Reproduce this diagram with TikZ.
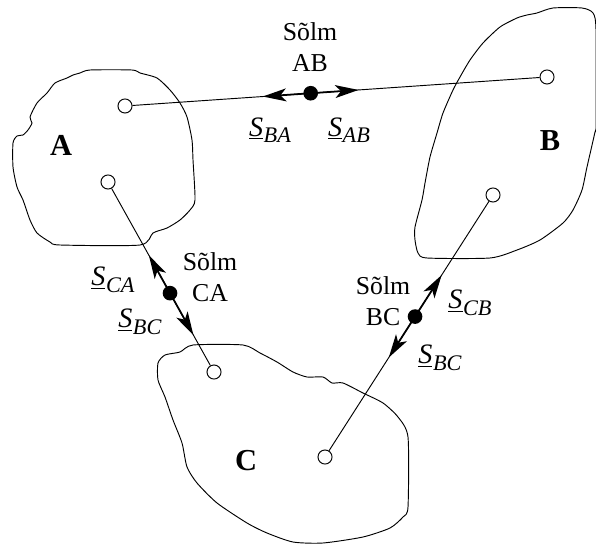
\documentclass[tikz,border=0pt]{standalone}
\usepackage{fontspec}
\setmainfont{Liberation Serif}
\usetikzlibrary{arrows.meta,calc}

\tikzset{
  port/.style={circle, draw, fill=white, inner sep=0pt, minimum size=12pt},
  hub/.style={circle, fill=black, inner sep=0pt, minimum size=12.5pt},
  force/.style={-{Stealth[length=20pt, width=11pt, inset=5pt]}, line width=1.5pt, shorten <=-1pt},
  lbl/.style={font=\fontsize{22}{27}\selectfont, align=center, inner sep=0pt},
  region/.style={font=\fontsize{26}{30}\selectfont\bfseries, inner sep=0pt}
}
\newcommand{\vecS}[1]{{\fontsize{24}{28}\selectfont\textit{\underline{S}}}\kern0.5pt\raisebox{-5.5pt}{\fontsize{19}{22}\selectfont\textit{#1}}}

\begin{document}
\begin{tikzpicture}[x=0.03cm, y=-0.03cm, line width=0.8pt]
\useasboundingbox (0,0) rectangle (596,544);

% regions
\draw plot[smooth cycle, tension=0.4] coordinates {
  (80,73) (90,70) (132,70) (140,73) (157,78) (170,90) (180,103) (187,117)
  (192,140) (193,160) (195,200) (190,210) (180,220) (167,228) (153,233)
  (140,245) (60,245) (50,242) (37,233) (30,220) (23,200) (17,187) (13,167)
  (13,143) (17,136) (23,135) (28,130) (32,123) (30,117) (37,103) (47,93)
  (55,83) (67,78) (73,75)};
\draw plot[smooth cycle, tension=0.4] coordinates {
  (537,13) (553,8) (582,8) (593,13) (596,30) (596,125) (595,132) (587,167)
  (582,190) (573,210) (563,223) (540,240) (517,250) (490,258) (427,258)
  (418,253) (415,240) (415,227) (422,200) (425,183) (430,157) (437,133)
  (443,113) (453,90) (460,77) (470,60) (483,43) (500,27) (517,18) (527,15)};
\draw plot[smooth cycle, tension=0.4] coordinates {
  (193,345) (243,345) (260,353) (277,362) (293,372) (307,377) (323,377)
  (332,383) (343,383) (363,393) (383,403) (398,417) (408,437) (408,507)
  (403,517) (390,528) (363,537) (323,543) (293,542) (267,533) (247,523)
  (217,503) (197,483) (187,467) (182,443) (173,420) (165,397) (158,380)
  (158,363) (165,355) (180,352)};

\node[region] (nameA) at (61,145) {A};
\node[region] (nameB) at (550,141) {B};
\node[region] (nameC) at (246,461) {C};

% centres
\node[port] (a1) at (125,106) {};
\node[port] (a2) at (108,182) {};
\node[port] (b1) at (547,77) {};
\node[port] (b2) at (493,195) {};
\node[port] (c1) at (214,372) {};
\node[port] (c2) at (325,457) {};

\draw (a1) -- (b1);
\draw (a2) -- (c1);
\draw (b2) -- (c2);

% nodes of the joints
\node[hub] (ab) at ($(a1)!0.44!(b1)$) {};
\node[hub] (ca) at ($(a2)!0.585!(c1)$) {};
\node[hub] (bc) at ($(b2)!0.464!(c2)$) {};

\coordinate (tipBA) at ($(ab)!1.44cm!(a1)$);
\coordinate (tipAB) at ($(ab)!1.44cm!(b1)$);
\coordinate (tipCA) at ($(ca)!1.30cm!(a2)$);
\coordinate (tipCB) at ($(ca)!1.44cm!(c1)$);
\coordinate (tipBCu) at ($(bc)!1.48cm!(b2)$);
\coordinate (tipBCd) at ($(bc)!1.46cm!(c2)$);

\draw[force] (ab) -- (tipBA);
\draw[force] (ab) -- (tipAB);
\draw[force] (ca) -- (tipCA);
\draw[force] (ca) -- (tipCB);
\draw[force] (bc) -- (tipBCu);
\draw[force] (bc) -- (tipBCd);

% labels
\node[lbl] (hubABlbl) at (310,47) {Sõlm\\AB};
\node[lbl] (hubCAlbl) at (210,277) {Sõlm\\CA};
\node[lbl] (hubBClbl) at (383,301) {Sõlm\\BC};

\node[lbl] (sBA) at (270,130) {\vecS{BA}};
\node[lbl] (sAB) at (349,130) {\vecS{AB}};
\node[lbl] (sCA) at (113,280) {\vecS{CA}};
\node[lbl] (sBCl) at (140,322) {\vecS{BC}};
\node[lbl] (sCB) at (470,303) {\vecS{CB}};
\node[lbl] (sBCr) at (440,358) {\vecS{BC}};
\end{tikzpicture}
\end{document}
